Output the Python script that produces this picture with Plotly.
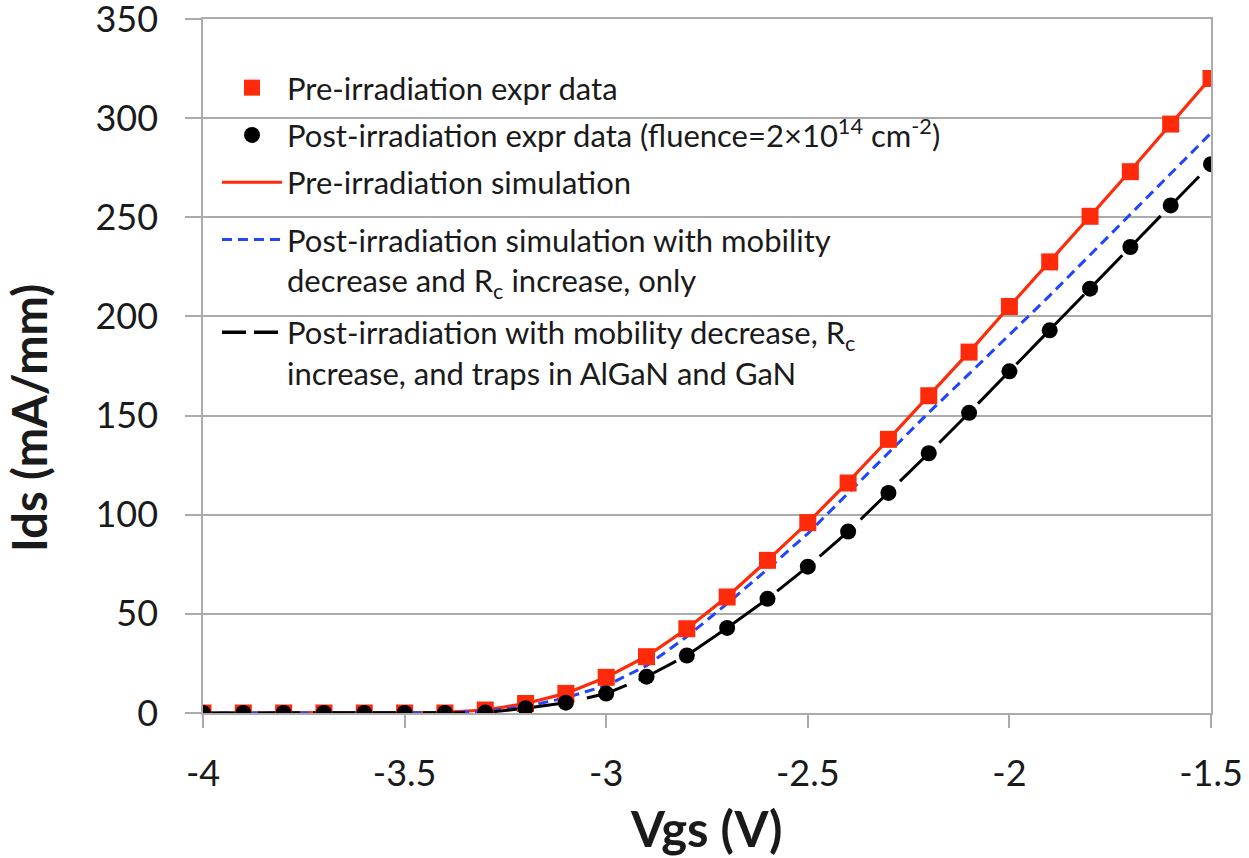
import plotly.graph_objects as go

vgs = [-4.0, -3.9, -3.8, -3.7, -3.6, -3.5, -3.4, -3.3, -3.2, -3.1, -3.0, -2.9, -2.8,
       -2.7, -2.6, -2.5, -2.4, -2.3, -2.2, -2.1, -2.0, -1.9, -1.8, -1.7, -1.6, -1.5]

pre_expr = [0, 0, 0, 0, 0, 0, 0, 1.5, 4.8, 9.9, 18, 28.4, 42.5,
            58.5, 77, 96, 116, 138, 160, 182, 205, 227.5, 250.5, 273, 297, 320]
post_expr = [0, 0, 0, 0, 0, 0, 0, 0.2, 2.4, 5.2, 9.8, 18.3, 29,
             42.9, 57.6, 73.8, 91.5, 111, 131, 151.4, 172.3, 193, 214, 235, 256, 276.8]
pre_sim = [0, 0, 0, 0, 0, 0, 0.3, 1.5, 4.8, 9.9, 18, 28.6, 42.5,
           58.6, 77, 96, 116.5, 138, 160, 182, 205, 227.5, 250.5, 273.5, 297, 320.5]
post_sim_mu_rc = [0, 0, 0, 0, 0, 0, 0.1, 0.8, 3.2, 7.7, 13.8, 23.8, 38.5,
                  55.2, 72.5, 90.5, 111, 131, 151.5, 171, 190.5, 210.5, 231, 251.5, 272, 292.5]
post_sim_traps = [0, 0, 0, 0, 0, 0, 0, 0.2, 2.4, 5.2, 9.8, 18.3, 29,
                  42.9, 57.6, 73.8, 91.5, 111, 131, 151.4, 172.3, 193, 214, 235, 256, 276.8]

names = [
    "Pre-irradiation expr data",
    "Post-irradiation expr data (fluence=2×10<sup>14</sup> cm<sup>-2</sup>)",
    "Pre-irradiation simulation",
    "Post-irradiation simulation with mobility<br>decrease and R<sub>c</sub> increase, only",
    "Post-irradiation with mobility decrease, R<sub>c</sub><br>increase, and traps in AlGaN and GaN",
]
x_ticks = [-4, -3.5, -3, -2.5, -2, -1.5]
x_ticklabels = ["-4", "-3.5", "-3", "-2.5", "-2", "-1.5"]
y_ticks = [0, 50, 100, 150, 200, 250, 300, 350]
x_title = "Vgs (V)"
y_title = "Ids (mA/mm)"

RED = "#FF2A0A"
BLUE = "#1F45FF"
BLACK = "#000000"
GRID = "#ABABAB"
TXT = "#1a1a1a"

fig = go.Figure()
fig.add_trace(go.Scatter(x=vgs, y=pre_sim, mode="lines", name=names[2], legendrank=3,
                         legendgroup="g3", legend="legend",
                         line=dict(color=RED, width=3.2)))
fig.add_trace(go.Scatter(x=vgs, y=post_sim_mu_rc, mode="lines", name=names[3], legendrank=4,
                         legendgroup="g4", legend="legend2",
                         line=dict(color=BLUE, width=3, dash="10px,6px")))
fig.add_trace(go.Scatter(x=vgs, y=post_sim_traps, mode="lines", name=names[4],
                         showlegend=False, legendgroup="g5", legend="legend2",
                         line=dict(color=BLACK, width=3, dash="42px,13px")))
# legend sample for the long-dash line (shorter dash pattern like the reference key)
fig.add_trace(go.Scatter(x=[None], y=[None], mode="lines", name=names[4], legendrank=5,
                         legendgroup="g5", legend="legend2",
                         line=dict(color=BLACK, width=3.5, dash="24px,8px")))
fig.add_trace(go.Scatter(x=vgs, y=pre_expr, mode="markers", name=names[0], legendrank=1,
                         legendgroup="g1", legend="legend",
                         marker=dict(symbol="square", size=17, color=RED)))
fig.add_trace(go.Scatter(x=vgs, y=post_expr, mode="markers", name=names[1], legendrank=2,
                         legendgroup="g2", legend="legend",
                         marker=dict(symbol="circle", size=16, color=BLACK)))

legend_common = dict(
    xanchor="left", yanchor="top",
    bgcolor="rgba(0,0,0,0)", borderwidth=0,
    font=dict(family="Lato", size=31, color=TXT),
    itemwidth=60, valign="top", traceorder="grouped",
)

fig.update_layout(
    width=1249, height=858,
    margin=dict(l=203, r=38, t=19, b=145, autoexpand=False),
    paper_bgcolor="white", plot_bgcolor="white",
    font=dict(family="Lato", color=TXT),
    showlegend=True,
    legend=dict(x=0.0139, y=0.9395, tracegroupgap=4, **legend_common),
    legend2=dict(x=0.0139, y=0.7205, tracegroupgap=9, **legend_common),
    xaxis=dict(
        range=[-4, -1.5], tickmode="array", tickvals=x_ticks, ticktext=x_ticklabels,
        showgrid=False, zeroline=False, automargin=False,
        showline=True, linecolor=GRID, linewidth=1.5, mirror=True,
        ticks="outside", ticklen=13, tickwidth=1.5, tickcolor=GRID,
        ticklabelstandoff=15, ticklabeloverflow="allow",
        tickfont=dict(family="Lato", size=36, color=TXT),
    ),
    yaxis=dict(
        range=[0, 350], tickmode="array", tickvals=y_ticks,
        showgrid=True, gridcolor=GRID, gridwidth=1.5, zeroline=False, automargin=False,
        showline=True, linecolor=GRID, linewidth=1.5, mirror=True,
        ticks="outside", ticklen=16, tickwidth=1.5, tickcolor=GRID,
        ticklabelstandoff=20, ticklabeloverflow="allow",
        tickfont=dict(family="Lato", size=36, color=TXT),
    ),
    annotations=[
        dict(text="<b>" + x_title + "</b>", xref="paper", yref="paper",
             x=0.499, y=-0.1657, xanchor="center", yanchor="middle", showarrow=False,
             font=dict(family="Lato", size=49, color=TXT)),
        dict(text="<b>" + y_title + "</b>", xref="paper", yref="paper", textangle=-90,
             x=-0.1726, y=0.4251, xanchor="center", yanchor="middle", showarrow=False,
             font=dict(family="Lato", size=47, color=TXT)),
    ],
)

fig.write_html("out.html")
